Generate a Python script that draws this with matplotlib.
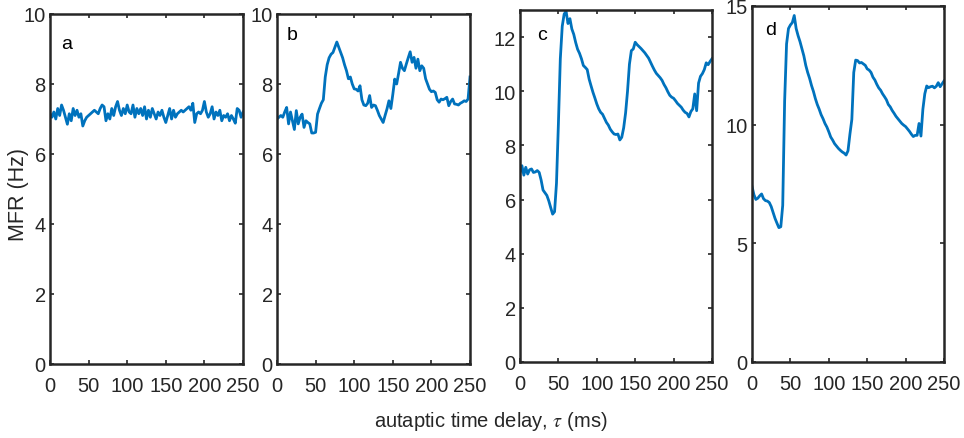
import numpy as np
import matplotlib.pyplot as plt

plt.rcParams['font.family'] = ['Liberation Sans', 'DejaVu Sans']
plt.rcParams['mathtext.fontset'] = 'stix'

# autaptic delay axis, 2.5 ms step
tau = np.arange(0, 250.01, 2.5)

# mean firing rate (Hz) for the four cases a-d
mfr_a = [7.15, 7.05, 7.20, 7.00, 7.30, 7.10, 7.40, 7.25, 7.05, 6.85,
         7.15, 6.95, 7.30, 7.10, 7.25, 7.05, 7.15, 6.80, 6.95, 7.05,
         7.10, 7.15, 7.20, 7.25, 7.20, 7.15, 7.30, 7.40, 7.35, 6.95,
         7.15, 7.00, 7.30, 7.10, 7.35, 7.50, 7.25, 7.10, 7.30, 7.15,
         7.40, 7.20, 7.15, 7.40, 7.05, 7.30, 7.15, 7.30, 7.10, 7.35,
         7.00, 7.25, 7.05, 7.30, 7.15, 7.00, 7.20, 7.10, 7.25, 7.05,
         6.90, 7.10, 7.30, 7.00, 7.25, 7.05, 7.15, 7.20, 7.25, 7.20,
         7.25, 7.30, 7.35, 7.25, 7.45, 6.90, 7.15, 7.20, 7.15, 7.25,
         7.50, 7.20, 7.05, 7.15, 7.35, 7.00, 7.20, 7.10, 7.25, 6.95,
         7.10, 7.05, 7.15, 6.95, 7.10, 7.00, 6.88, 7.30, 7.25, 7.05,
         7.20]

mfr_b = [7.00, 7.05, 7.10, 7.05, 7.20, 7.33, 6.86, 7.20, 6.95, 6.70,
         7.24, 6.86, 7.05, 7.14, 6.76, 6.95, 6.90, 6.86, 6.60, 6.60,
         6.62, 7.14, 7.30, 7.45, 7.55, 8.20, 8.55, 8.75, 8.85, 8.90,
         9.05, 9.20, 9.05, 8.90, 8.75, 8.55, 8.38, 8.15, 8.20, 8.00,
         7.86, 7.85, 7.80, 7.95, 7.55, 7.40, 7.38, 7.45, 7.67, 7.33,
         7.40, 7.38, 7.25, 7.10, 7.00, 6.90, 7.10, 7.29, 7.52, 7.30,
         7.70, 8.14, 8.00, 8.30, 8.62, 8.45, 8.38, 8.57, 8.75, 8.92,
         8.62, 8.76, 8.45, 8.71, 8.38, 8.52, 8.45, 8.15, 8.00, 7.85,
         7.78, 7.80, 7.76, 7.55, 7.48, 7.57, 7.55, 7.58, 7.62, 7.38,
         7.50, 7.57, 7.43, 7.42, 7.40, 7.45, 7.48, 7.52, 7.50, 7.57,
         8.20]

mfr_c = [7.00, 7.25, 6.90, 7.19, 6.94, 7.10, 7.13, 7.00, 7.02, 7.07,
         7.00, 6.72, 6.35, 6.25, 6.15, 5.95, 5.70, 5.46, 5.55, 6.60,
         8.80, 11.20, 12.40, 12.85, 12.95, 12.50, 12.68, 12.30, 12.10, 11.80,
         11.55, 11.40, 11.20, 10.95, 10.88, 10.80, 10.45, 10.20, 9.96, 9.75,
         9.53, 9.35, 9.22, 9.15, 9.00, 8.85, 8.75, 8.60, 8.50, 8.42,
         8.40, 8.42, 8.20, 8.30, 8.65, 9.20, 10.00, 11.00, 11.50, 11.56,
         11.81, 11.72, 11.65, 11.58, 11.50, 11.42, 11.32, 11.22, 11.07, 10.92,
         10.78, 10.66, 10.58, 10.50, 10.40, 10.25, 10.13, 9.98, 9.85, 9.78,
         9.74, 9.65, 9.55, 9.48, 9.41, 9.30, 9.22, 9.18, 9.05, 9.25,
         9.35, 9.90, 9.28, 10.30, 10.55, 10.65, 10.80, 11.05, 10.98, 11.10,
         11.20]

mfr_d = [7.40, 7.05, 6.85, 6.90, 7.00, 7.08, 6.88, 6.80, 6.78, 6.72,
         6.55, 6.30, 6.05, 5.85, 5.66, 5.70, 6.60, 11.00, 13.40, 14.05,
         14.20, 14.30, 14.60, 14.05, 13.75, 13.50, 13.20, 12.90, 12.50, 12.20,
         11.95, 11.65, 11.40, 11.10, 10.85, 10.65, 10.42, 10.25, 10.05, 9.90,
         9.70, 9.48, 9.35, 9.20, 9.10, 9.00, 8.92, 8.85, 8.80, 8.72,
         8.90, 9.60, 10.22, 12.20, 12.72, 12.70, 12.60, 12.62, 12.56, 12.50,
         12.35, 12.30, 12.20, 12.00, 11.88, 11.70, 11.55, 11.45, 11.30, 11.18,
         11.05, 10.85, 10.75, 10.60, 10.48, 10.35, 10.25, 10.15, 10.05, 9.98,
         9.92, 9.82, 9.72, 9.60, 9.50, 9.55, 9.55, 10.05, 9.52, 10.65,
         11.30, 11.63, 11.56, 11.60, 11.62, 11.55, 11.62, 11.77, 11.60, 11.72,
         11.84]

labels = ['a', 'b', 'c', 'd']
series = [mfr_a, mfr_b, mfr_c, mfr_d]
ylims = [10, 10, 13, 15]
yticks = [np.arange(0, 11, 2), np.arange(0, 11, 2), np.arange(0, 13, 2),
          np.arange(0, 16, 5)]

W, H = 964, 439
# axes boxes in pixels: left, top, right, bottom
boxes = [(50, 15, 243, 365), (277, 15, 470, 365),
         (520, 11, 712, 363), (752, 7, 944, 363)]
label_pos = [(0.06, 0.915), (0.05, 0.94), (0.09, 0.93), (0.07, 0.935)]

fig = plt.figure(figsize=(W / 100, H / 100), dpi=100)
blue = '#0072BD'
dark = '#262626'

for i in range(4):
    l, t, r, b = boxes[i]
    ax = fig.add_axes([l / W, 1 - b / H, (r - l) / W, (b - t) / H])
    ax.plot(tau, series[i], color=blue, lw=2.0)
    ax.set_xlim(0, 250)
    ax.set_ylim(0, ylims[i])
    ax.set_xticks(np.arange(0, 251, 50))
    ax.set_yticks(yticks[i])
    ax.tick_params(direction='in', top=True, right=True, length=3,
                   width=1.2, color=dark, labelcolor=dark, labelsize=14.5)
    ax.tick_params(axis='x', pad=9)
    ax.tick_params(axis='y', pad=3)
    for s in ax.spines.values():
        s.set_linewidth(1.8)
        s.set_color(dark)
    ax.text(label_pos[i][0], label_pos[i][1], labels[i], transform=ax.transAxes,
            fontsize=14, color='k', va='center', ha='left')

fig.text(19 / W, 1 - 195 / H, 'MFR (Hz)', rotation=90, ha='center',
         va='center', fontsize=15.5, color=dark)
fig.text(491 / W, 1 - 422 / H, r'autaptic time delay, $\tau$ (ms)',
         ha='center', va='center', fontsize=14.5, color=dark)

fig.savefig('out.png', dpi=100)
